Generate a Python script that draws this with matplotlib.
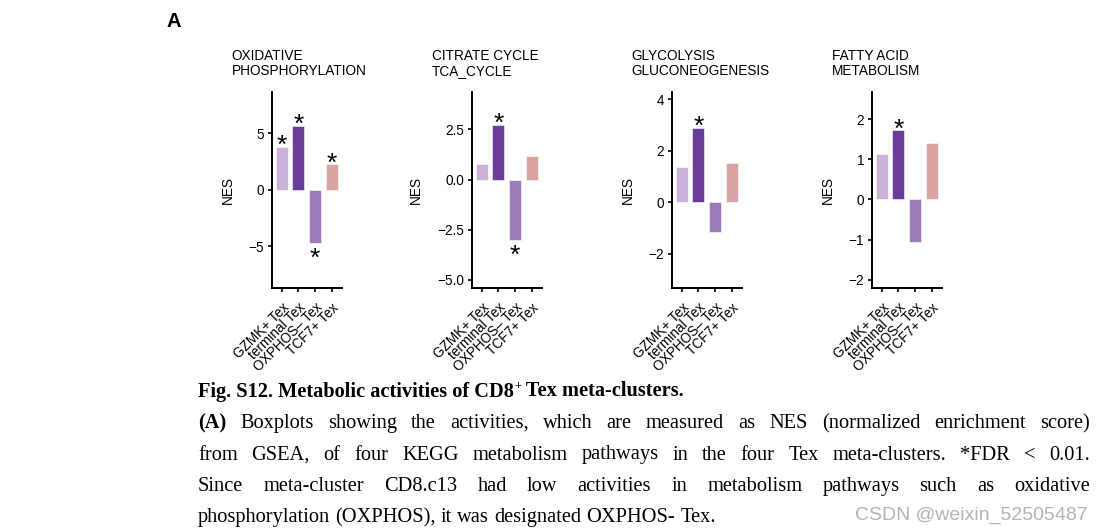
import matplotlib
matplotlib.use("Agg")
import matplotlib.pyplot as plt

# 图尺寸（像素）
W, H = 1105, 532
DPI = 100

categories = ["GZMK+ Tex", "terminal Tex", "OXPHOS\u2013 Tex", "TCF7+ Tex"]
bar_colors = ["#CBB2D8", "#6A3D9A", "#9C7BB9", "#D9A4A1"]

titles = [
    ["OXIDATIVE", "PHOSPHORYLATION"],
    ["CITRATE CYCLE", "TCA_CYCLE"],
    ["GLYCOLYSIS", "GLUCONEOGENESIS"],
    ["FATTY ACID", "METABOLISM"],
]

# NES 数值
nes_oxphos = [3.8, 5.65, -4.67, 2.25]
nes_tca = [0.78, 2.72, -3.0, 1.19]
nes_glyco = [1.38, 2.9, -1.16, 1.52]
nes_fatty = [1.14, 1.73, -1.06, 1.40]

# FDR < 0.01 标记
sig_oxphos = [True, True, True, True]
sig_tca = [False, True, True, False]
sig_glyco = [False, True, False, False]
sig_fatty = [False, True, False, False]

yticks_oxphos = [-5, 0, 5]
yticks_tca = [-5.0, -2.5, 0.0, 2.5]
yticks_glyco = [-2, 0, 2, 4]
yticks_fatty = [-2, -1, 0, 1, 2]
ytick_fmt = ["{:.0f}", "{:.1f}", "{:.0f}", "{:.0f}"]

ylims = [(-8.7, 8.7), (-5.4, 4.38), (-3.32, 4.3), (-2.21, 2.69)]

caption_title = "Fig. S12. Metabolic activities of CD8"
caption_title_tail = " Tex meta-clusters."
caption_lines = [
    "(A) Boxplots showing the activities, which are measured as NES (normalized enrichment score)",
    "from GSEA, of four KEGG metabolism pathways in the four Tex meta-clusters. *FDR < 0.01.",
    "Since meta-cluster CD8.c13 had low activities in metabolism pathways such as oxidative",
    "phosphorylation (OXPHOS), it was designated OXPHOS- Tex.",
]
watermark = "CSDN @weixin_52505487"

SANS = ["Liberation Sans", "DejaVu Sans"]
SERIF = ["Liberation Serif", "DejaVu Serif"]
FS = 9.8


def px(x, y):
    return x / W, 1 - y / H


fig = plt.figure(figsize=(W / DPI, H / DPI), dpi=DPI)
fig.patch.set_facecolor("white")

panels = [
    (nes_oxphos, sig_oxphos, yticks_oxphos),
    (nes_tca, sig_tca, yticks_tca),
    (nes_glyco, sig_glyco, yticks_glyco),
    (nes_fatty, sig_fatty, yticks_fatty),
]

ax_left0, ax_step, ax_w = 271.7, 200.0, 70.0
ax_top, ax_bot = 91.7, 288.0
xpos = [1, 2, 3, 4]

for i, (vals, sig, yt) in enumerate(panels):
    left = ax_left0 + i * ax_step
    ax = fig.add_axes([left / W, 1 - ax_bot / H, ax_w / W, (ax_bot - ax_top) / H])
    ax.bar(xpos, vals, width=0.72, color=bar_colors, edgecolor="white", linewidth=0.4)
    ax.set_xlim(0.4, 4.6)
    ax.set_ylim(*ylims[i])
    ax.set_yticks(yt)
    ax.set_yticklabels([ytick_fmt[i].format(v).replace("-", "\u2212") for v in yt],
                       family=SANS, fontsize=FS)
    ax.set_xticks(xpos)
    ax.set_xticklabels(categories, rotation=45, ha="right", va="top",
                       rotation_mode="anchor", family=SANS, fontsize=FS)
    for s in ["top", "right"]:
        ax.spines[s].set_visible(False)
    for s in ["left", "bottom"]:
        ax.spines[s].set_linewidth(1.4)
    ax.tick_params(axis="both", length=3, width=1.2, pad=2.5, colors="black")
    ax.tick_params(axis="x", pad=6)
    ax.set_ylabel("NES", family=SANS, fontsize=FS, labelpad=10)
    ax.patch.set_alpha(0)

    # 星号
    for x, v, s in zip(xpos, vals, sig):
        if not s:
            continue
        if v > 0:
            ax.annotate("*", (x, v), xytext=(0, -4.5), textcoords="offset points",
                        ha="center", va="baseline", fontsize=19, family=SANS)
        else:
            ax.annotate("*", (x, v), xytext=(0, -16.5), textcoords="offset points",
                        ha="center", va="baseline", fontsize=19, family=SANS)

    # 标题（左对齐于绘图区域）
    tx = 231.7 + i * ax_step
    fig.text(*px(tx, 60), titles[i][0], family=SANS, fontsize=FS, va="baseline")
    fig.text(*px(tx, 75), titles[i][1], family=SANS, fontsize=FS, va="baseline")

fig.text(*px(166.5, 27), "A", family=SANS, fontsize=14.5, fontweight="bold", va="baseline")

# 说明文字
renderer = fig.canvas.get_renderer()
CAP_FS = 14.7


def text_width(t):
    return t.get_window_extent(renderer).width


def place_words(words, y, x0, x1=None):
    objs = []
    for w, wt in words:
        t = fig.text(0, 0, w, family=SERIF, fontsize=CAP_FS, fontweight=wt, va="baseline")
        objs.append(t)
    widths = [text_width(t) for t in objs]
    if x1 is None:
        ta = fig.text(0, 0, "a a", family=SERIF, fontsize=CAP_FS)
        tb = fig.text(0, 0, "aa", family=SERIF, fontsize=CAP_FS)
        sp = text_width(ta) - text_width(tb)
        ta.remove()
        tb.remove()
    else:
        sp = (x1 - x0 - sum(widths)) / (len(objs) - 1)
    x = x0
    for t, w in zip(objs, widths):
        t.set_position(px(x, y))
        x += w + sp


x_left, x_right = 198.0, 1090.0
baselines = [396.5, 428.0, 459.5, 491.0, 522.0]

t1 = fig.text(*px(x_left, baselines[0]), caption_title, family=SERIF,
              fontsize=CAP_FS, fontweight="bold", va="baseline")
w1 = text_width(t1)
tp = fig.text(*px(x_left + w1 + 0.5, baselines[0] - 7), "+", family=SERIF,
              fontsize=CAP_FS * 0.6, fontweight="bold", va="baseline")
wp = text_width(tp)
fig.text(*px(x_left + w1 + wp + 0.5, baselines[0]), caption_title_tail, family=SERIF,
         fontsize=CAP_FS, fontweight="bold", va="baseline")

for k, line in enumerate(caption_lines):
    words = [(w, "normal") for w in line.split(" ")]
    if k == 0:
        words[0] = (words[0][0], "bold")
    right = x_right if k < 3 else None
    place_words(words, baselines[k + 1], x_left, right)

fig.text(*px(1088, 520), watermark, family=SANS, fontsize=14, color="#b4b4b4",
         ha="right", va="baseline")

fig.savefig("out.png", dpi=DPI, facecolor="white")
